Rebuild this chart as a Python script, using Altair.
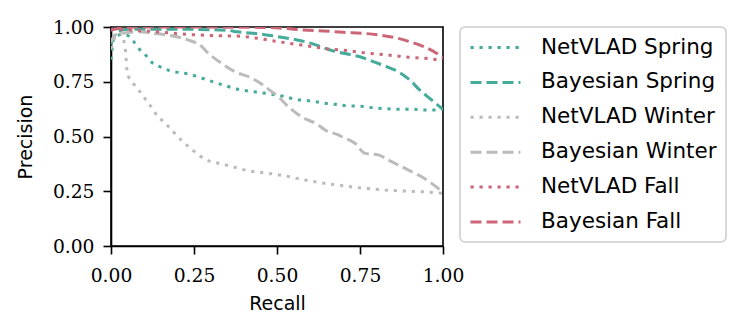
import altair as alt
import pandas as pd

series_order = ["NetVLAD Spring", "Bayesian Spring", "NetVLAD Winter",
                "Bayesian Winter", "NetVLAD Fall", "Bayesian Fall"]
colors = ["#44AA99", "#44AA99", "#BBBBBB", "#BBBBBB", "#CC6677", "#CC6677"]
dashes = [[3.2, 5.8], [11, 5], [3.2, 5.8], [11, 5], [3.2, 5.8], [11, 5]]

netvlad_spring_r = [0.0, 0.007, 0.012, 0.042, 0.065, 0.085, 0.104, 0.124, 0.15, 0.178,
                    0.208, 0.238, 0.266, 0.293, 0.321, 0.349, 0.378, 0.408, 0.437, 0.466,
                    0.524, 0.554, 0.584, 0.614, 0.645, 0.675, 0.705, 0.735, 0.765, 0.795,
                    0.825, 0.88, 0.91, 0.94, 0.97, 1.0]
netvlad_spring_p = [0.85, 0.94, 0.956, 0.967, 0.94, 0.90, 0.872, 0.837, 0.817, 0.80,
                    0.791, 0.784, 0.77, 0.757, 0.743, 0.73, 0.717, 0.709, 0.703, 0.697,
                    0.682, 0.67, 0.665, 0.659, 0.652, 0.647, 0.641, 0.639, 0.636, 0.630,
                    0.627, 0.624, 0.624, 0.621, 0.621, 0.624]

bayes_spring_r = [0.0, 0.02, 0.05, 0.2, 0.35, 0.38, 0.45, 0.5, 0.56, 0.61, 0.66, 0.70,
                  0.75, 0.79, 0.83, 0.865, 0.90, 0.93, 0.96, 1.0]
bayes_spring_p = [0.92, 0.98, 0.99, 0.99, 0.985, 0.978, 0.968, 0.956, 0.941, 0.922, 0.895,
                  0.88, 0.864, 0.842, 0.819, 0.796, 0.758, 0.712, 0.674, 0.624]

netvlad_winter_r = [0.0, 0.015, 0.03, 0.042, 0.045, 0.047, 0.052, 0.067, 0.087, 0.104,
                    0.122, 0.139, 0.160, 0.181, 0.201, 0.222, 0.246, 0.268, 0.293, 0.323,
                    0.353, 0.383, 0.412, 0.441, 0.468, 0.524, 0.584, 0.645, 0.705, 0.765,
                    0.825, 0.886, 0.946, 1.0]
netvlad_winter_p = [0.90, 0.96, 0.97, 0.91, 0.865, 0.82, 0.776, 0.743, 0.705, 0.67,
                    0.633, 0.595, 0.565, 0.533, 0.499, 0.469, 0.438, 0.411, 0.39, 0.378,
                    0.367, 0.355, 0.344, 0.338, 0.333, 0.32, 0.301, 0.286, 0.274, 0.263,
                    0.256, 0.251, 0.247, 0.241]

bayes_winter_r = [0.0, 0.012, 0.082, 0.127, 0.183, 0.243, 0.268, 0.293, 0.333, 0.377,
                  0.419, 0.443, 0.484, 0.504, 0.534, 0.574, 0.624, 0.645, 0.685, 0.695,
                  0.735, 0.765, 0.805, 0.835, 0.876, 0.906, 0.936, 0.966, 1.0]
bayes_winter_p = [0.93, 0.963, 0.978, 0.971, 0.96, 0.935, 0.918, 0.88, 0.834, 0.793,
                  0.77, 0.75, 0.705, 0.682, 0.636, 0.59, 0.553, 0.53, 0.507, 0.499,
                  0.469, 0.423, 0.416, 0.393, 0.362, 0.339, 0.316, 0.286, 0.245]

netvlad_fall_r = [0.0, 0.06, 0.153, 0.213, 0.273, 0.333, 0.393, 0.423, 0.453, 0.473,
                  0.534, 0.594, 0.654, 0.714, 0.775, 0.835, 0.895, 0.946, 0.98, 1.0]
netvlad_fall_p = [0.99, 0.986, 0.976, 0.968, 0.963, 0.96, 0.958, 0.952, 0.946, 0.941,
                  0.926, 0.913, 0.90, 0.892, 0.88, 0.872, 0.862, 0.857, 0.852, 0.86]

bayes_fall_r = [0.0, 0.03, 0.1, 0.46, 0.52, 0.58, 0.64, 0.70, 0.76, 0.81, 0.86, 0.90,
                0.94, 0.97, 1.0]
bayes_fall_p = [0.985, 0.995, 1.0, 0.998, 0.994, 0.986, 0.982, 0.976, 0.971, 0.963,
                0.95, 0.933, 0.912, 0.89, 0.86]

curves = [
    (netvlad_spring_r, netvlad_spring_p),
    (bayes_spring_r, bayes_spring_p),
    (netvlad_winter_r, netvlad_winter_p),
    (bayes_winter_r, bayes_winter_p),
    (netvlad_fall_r, netvlad_fall_p),
    (bayes_fall_r, bayes_fall_p),
]

rows = []
for name, (rs, ps) in zip(series_order, curves):
    for r, p in zip(rs, ps):
        rows.append({"series": name, "recall": r, "precision": p})
df = pd.DataFrame(rows)

ticks = [0.0, 0.25, 0.5, 0.75, 1.0]

chart = alt.Chart(df).mark_line(strokeWidth=3, interpolate="monotone", clip=True).encode(
    x=alt.X("recall:Q", title="Recall",
            scale=alt.Scale(domain=[0, 1], nice=False),
            axis=alt.Axis(values=ticks, format=".2f")),
    y=alt.Y("precision:Q", title="Precision",
            scale=alt.Scale(domain=[0, 1], nice=False),
            axis=alt.Axis(values=ticks, format=".2f")),
    color=alt.Color("series:N", sort=series_order,
                    scale=alt.Scale(domain=series_order, range=colors),
                    legend=alt.Legend(title=None)),
    strokeDash=alt.StrokeDash("series:N", sort=series_order,
                              scale=alt.Scale(domain=series_order, range=dashes),
                              legend=alt.Legend(title=None)),
).properties(
    width=332, height=219,
    autosize=alt.AutoSizeParams(type="none"),
    padding={"left": 103, "top": 19, "right": 297, "bottom": 82},
).configure_view(
    stroke="black", strokeWidth=1.6
).configure_axis(
    domainColor="black", domainWidth=1.6, tickColor="black", tickWidth=1.6,
    tickSize=8, labelFont="DejaVu Serif", labelFontSize=18.7, labelColor="black",
    titleFont="DejaVu Sans", titleFontSize=19, titleColor="black",
    titleFontWeight="normal", grid=False, labelFlush=False
).configure_axisX(
    titlePadding=10, labelPadding=12
).configure_axisY(
    titlePadding=17, labelPadding=9
).configure_legend(
    orient="right", offset=17, padding=9, strokeColor="#cccccc", cornerRadius=5,
    strokeWidth=1.5,
    fillColor="white", labelFont="DejaVu Sans", labelFontSize=21.5, labelColor="black",
    symbolSize=400, symbolStrokeWidth=3, labelOffset=49, rowPadding=12.9,
    symbolType="M-1,0L4,0", labelLimit=400
)

chart.save("out.html", embed_options={"renderer": "svg", "actions": False})
